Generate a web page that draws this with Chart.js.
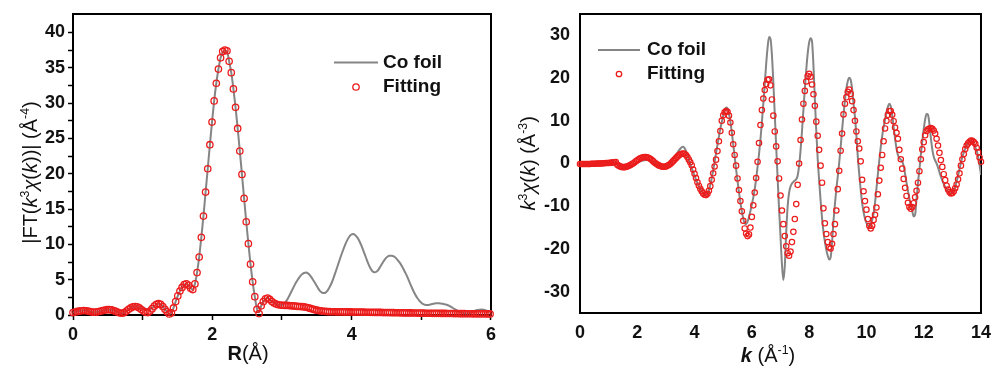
<!DOCTYPE html>
<html>
<head>
<meta charset="utf-8">
<script src="https://cdn.jsdelivr.net/npm/chart.js@4.4.0/dist/chart.umd.min.js"></script>
<style>
  html, body { margin: 0; background: #fff; overflow: hidden; }
  .panel { position: absolute; top: 0; height: 371px; }
  #left { left: 0; width: 500px; }
  #right { left: 497px; width: 494px; }
</style>
</head>
<body>
<div class="panel" id="left"><canvas id="ftChart"></canvas></div>
<div class="panel" id="right"><canvas id="kChart"></canvas></div>
<script>
// |FT(k3 chi(k))| vs R, sampled every dR
const dR = 0.0307;
const ftFit = [
  0.35, 0.42, 0.5, 0.56, 0.6, 0.62, 0.6, 0.55, 0.48, 0.42,
  0.4, 0.42, 0.48, 0.55, 0.63, 0.7, 0.75, 0.76, 0.72, 0.62,
  0.5, 0.38, 0.28, 0.25, 0.35, 0.55, 0.8, 1.0, 1.15, 1.2,
  1.15, 1.0, 0.78, 0.55, 0.38, 0.35, 0.55, 0.9, 1.25, 1.5,
  1.6, 1.5, 1.2, 0.8, 0.45, 0.15, 0.3, 1.0, 1.9, 2.7,
  3.4, 3.9, 4.3, 4.4, 4.2, 3.8, 3.6, 4.4, 6.0, 8.2,
  11.0, 14.0, 17.4, 20.7, 24.1, 27.3, 30.3, 32.8, 34.8, 36.4,
  37.3, 37.5, 37.4, 35.9, 34.3, 32.0, 29.4, 26.4, 23.2, 19.9,
  16.5, 13.2, 10.1, 7.2, 4.7, 2.6, 0.8, 0.2, 1.3, 1.9,
  2.3, 2.4, 2.2, 1.9, 1.7, 1.55, 1.45, 1.4, 1.38, 1.36,
  1.35, 1.33, 1.3, 1.28, 1.25, 1.22, 1.2, 1.18, 1.15, 1.1,
  1.02, 0.93, 0.84, 0.76, 0.68, 0.62, 0.57, 0.53, 0.5, 0.48,
  0.47, 0.46, 0.46, 0.45, 0.45, 0.45, 0.44, 0.44, 0.44, 0.43,
  0.43, 0.42, 0.42, 0.41, 0.41, 0.4, 0.4, 0.39, 0.39, 0.38,
  0.38, 0.37, 0.37, 0.36, 0.36, 0.35, 0.35, 0.34, 0.34, 0.33,
  0.33, 0.32, 0.32, 0.31, 0.31, 0.3, 0.3, 0.29, 0.29, 0.28,
  0.28, 0.27, 0.27, 0.26, 0.26, 0.25, 0.25, 0.25, 0.24, 0.24,
  0.23, 0.23, 0.22, 0.22, 0.22, 0.21, 0.21, 0.21, 0.2, 0.2,
  0.2, 0.19, 0.19, 0.19, 0.18, 0.18, 0.18, 0.17, 0.17, 0.17,
  0.17, 0.16, 0.16, 0.16, 0.15, 0.15
];
const ftFoil = [
  0.35, 0.42, 0.5, 0.56, 0.6, 0.62, 0.6, 0.55, 0.48, 0.42,
  0.4, 0.42, 0.48, 0.55, 0.63, 0.7, 0.75, 0.76, 0.72, 0.62,
  0.5, 0.38, 0.28, 0.25, 0.35, 0.55, 0.8, 1.0, 1.15, 1.2,
  1.15, 1.05, 0.95, 0.85, 0.8, 0.8, 0.85, 1.0, 1.25, 1.5,
  1.6, 1.5, 1.2, 0.8, 0.45, 0.15, 0.3, 1.0, 1.9, 2.7,
  3.4, 3.9, 4.3, 4.4, 4.2, 3.8, 3.6, 4.4, 6.0, 8.2,
  11.0, 14.0, 17.4, 20.7, 24.1, 27.3, 30.3, 32.8, 34.8, 36.4,
  37.2, 37.4, 37.3, 35.9, 34.3, 32.0, 29.4, 26.4, 23.2, 19.9,
  16.5, 13.2, 10.1, 7.2, 4.7, 2.6, 0.9, 0.4, 1.3, 1.9,
  2.3, 2.4, 2.2, 1.9, 1.7, 1.55, 1.45, 1.4, 1.45, 1.7,
  2.1, 2.65, 3.25, 3.85, 4.45, 4.95, 5.4, 5.75, 5.95, 6.0,
  5.85, 5.55, 5.1, 4.6, 4.1, 3.6, 3.25, 3.1, 3.15, 3.45,
  3.95, 4.6, 5.4, 6.3, 7.2, 8.1, 8.95, 9.75, 10.45, 11.0,
  11.35, 11.45, 11.3, 10.95, 10.4, 9.7, 8.9, 8.1, 7.3, 6.65,
  6.2, 6.05, 6.15, 6.5, 7.0, 7.5, 7.95, 8.25, 8.4, 8.4,
  8.3, 8.05, 7.7, 7.3, 6.8, 6.2, 5.6, 4.9, 4.2, 3.5,
  2.9, 2.4, 2.0, 1.7, 1.5, 1.42, 1.42, 1.48, 1.56, 1.62,
  1.65, 1.66, 1.64, 1.58, 1.5, 1.42, 1.3, 1.12, 0.92, 0.75,
  0.58, 0.45, 0.33, 0.25, 0.22, 0.25, 0.35, 0.48, 0.6, 0.7,
  0.76, 0.78, 0.74, 0.66, 0.55, 0.45
];
const rTicks = [0, 1, 2, 3, 4, 5, 6];
const ftTicks = [0, 2.5, 5, 7.5, 10, 12.5, 15, 17.5, 20, 22.5, 25, 27.5, 30, 32.5, 35, 37.5, 40];

// k3 chi(k) vs k, sampled every dk
const dk = 0.05;
const kFit = [
  -0.1, -0.1, -0.1, -0.1, -0.1, -0.1, -0.1, -0.1, -0.05, -0.05, -0.05, -0.05, 0, 0, 0, 0, 0.05, 0.05, 0.1, 0.1,
  0.1, 0.15, 0.2, 0.25, 0.3, 0.35, -0.3, -0.5, -0.7, -0.8, -0.85, -0.85, -0.8, -0.7, -0.55, -0.4, -0.2, 0, 0.25, 0.5,
  0.75, 1.0, 1.2, 1.35, 1.45, 1.5, 1.5, 1.45, 1.3, 1.1, 0.85, 0.55, 0.25, 0, -0.25, -0.45, -0.6, -0.7, -0.75, -0.75,
  -0.7, -0.55, -0.35, -0.1, 0.2, 0.55, 0.9, 1.25, 1.6, 1.9, 2.15, 2.3, 2.35, 2.3, 2.0, 1.5, 0.9, 0.3, -0.4, -1.4,
  -2.4, -3.4, -4.4, -5.2, -5.9, -6.5, -7.0, -7.3, -7.4, -7.1, -6.4, -5.3, -3.8, -2.3, -0.7, 0.9, 2.9, 5.2, 7.6, 10.0,
  11.3, 12.0, 12.3, 12.1, 11.2, 9.6, 7.2, 4.5, 2.0, -0.5, -3.5, -6.2, -8.8, -11.2, -13.4, -15.2, -16.4, -17.0, -16.6, -15.0,
  -12.5, -9.8, -6.8, -3.4, 0.4, 4.8, 9.0, 12.5, 15.2, 17.2, 18.6, 19.6, 19.7, 18.3, 15.0, 11.2, 7.5, 4.0, 0.5, -3.5,
  -7.5, -11.0, -14.2, -17.0, -19.4, -21.0, -21.6, -20.6, -18.4, -16.0, -13.0, -9.5, -5.0, 0, 5.5, 10.3, 14.0, 17.0, 19.2, 20.5,
  21.0, 20.3, 18.5, 16.2, 13.5, 9.8, 6.5, 3.2, -0.5, -4.5, -10.5, -14.0, -16.5, -18.4, -19.6, -19.9, -18.8, -16.5, -14.2, -11.0,
  -6.0, -1.7, 3.0, 7.0, 11.5, 14.0, 15.5, 16.8, 17.3, 16.3, 14.6, 12.5, 10.0, 7.5, 5.2, 3.5, 0.5, -3.8, -6.5, -8.8,
  -10.8, -13.0, -14.6, -15.2, -14.6, -13.2, -12.0, -10.3, -7.2, -4.0, -1.0, 2.0, 5.2, 8.2, 10.0, 11.4, 12.3, 12.3, 11.4, 9.9,
  8.4, 7.2, 5.8, 3.2, 1.0, -1.2, -3.6, -5.7, -7.6, -9.2, -10.2, -10.6, -10.2, -9.3, -7.9, -6.4, -4.5, -1.8, 1.0, 3.3,
  5.0, 6.6, 7.6, 8.0, 8.2, 8.3, 8.1, 7.7, 7.0, 5.8, 4.2, 2.5, 0.8, -0.8, -2.5, -3.9, -5.2, -6.1, -6.7, -7.0,
  -6.9, -6.5, -5.8, -4.9, -3.7, -2.3, -0.5, 1.0, 2.2, 3.4, 4.2, 4.7, 5.1, 5.4, 5.3, 5.0, 4.6, 3.7, 2.6, 1.4,
  0.4
];
const kFoil = [
  -0.1, -0.1, -0.1, -0.1, -0.1, -0.1, -0.1, -0.1, -0.05, -0.05, -0.05, -0.05, 0, 0, 0, 0, 0.05, 0.05, 0.1, 0.1,
  0.1, 0.15, 0.2, 0.25, 0.3, 0.35, -0.2, -0.5, -0.8, -0.95, -1.0, -1.0, -0.95, -0.85, -0.7, -0.55, -0.4, -0.25, -0.1, 0.05,
  0.2, 0.35, 0.5, 0.6, 0.7, 0.75, 0.8, 0.8, 0.8, 0.75, 0.6, 0.4, 0.15, -0.1, -0.35, -0.6, -0.8, -0.95, -1.0, -1.0,
  -0.9, -0.7, -0.4, 0.0, 0.45, 0.95, 1.5, 2.0, 2.5, 3.0, 3.45, 3.8, 3.9, 3.6, 2.9, 1.9, 0.8, -0.2, -1.1, -2.0,
  -2.9, -3.8, -4.6, -5.3, -5.9, -6.5, -7.0, -7.3, -7.4, -7.1, -6.3, -5.0, -3.4, -1.6, 0.4, 2.4, 4.4, 6.3, 8.1, 9.7,
  11.2, 12.4, 13.1, 12.9, 11.7, 9.8, 7.3, 4.5, 1.6, -1.3, -4.1, -6.7, -9.1, -11.2, -12.9, -14.0, -14.2, -13.6, -12.5, -11.1,
  -9.6, -8.0, -6.0, -3.6, -0.8, 2.2, 5.6, 9.6, 14.0, 18.6, 23.3, 27.2, 29.6, 29.2, 25.5, 19.0, 11.5, 4.0, -3.5, -10.5,
  -17.0, -23.5, -27.3, -24.0, -16.0, -10.0, -6.8, -5.4, -4.7, -4.3, -4.0, -3.7, -2.8, -0.5, 3.0, 7.5, 12.5, 17.5, 22.0, 25.8,
  28.3, 29.3, 28.6, 23.0, 15.0, 7.5, 1.0, -4.0, -8.6, -12.8, -16.0, -18.3, -20.2, -21.6, -22.5, -22.0, -18.5, -13.5, -9.5, -6.0,
  -3.0, 0.2, 3.8, 7.8, 11.5, 14.8, 17.5, 19.3, 20.1, 19.6, 17.5, 14.0, 10.9, 6.5, 1.5, -2.5, -6.2, -9.2, -11.4, -12.9,
  -13.9, -14.4, -14.8, -14.2, -13.2, -11.7, -9.2, -5.9, -2.5, 0.8, 3.8, 6.4, 8.5, 10.3, 12.0, 13.3, 14.0, 13.4, 11.3, 8.6,
  5.8, 3.5, 2.0, 1.3, 0.9, 0.5, -0.6, -2.4, -4.5, -6.4, -8.2, -9.8, -11.2, -12.4, -12.0, -8.2, -4.5, -1.4, 2.0, 5.2,
  8.0, 10.3, 11.6, 11.4, 9.2, 6.0, 3.3, 1.6, 0.7, 0.0, -0.9, -2.0, -3.1, -4.0, -4.8, -5.5, -6.1, -6.6, -6.9, -7.0,
  -6.8, -6.2, -5.4, -4.2, -2.8, -1.3, 0.2, 1.5, 2.6, 3.5, 4.3, 4.9, 5.3, 5.4, 5.1, 4.5, 3.8, 3.0, 1.6, -0.4,
  -2.7
];
const kTicks = [0, 2, 4, 6, 8, 10, 12, 14];
const chiTicks = [-30, -20, -10, 0, 10, 20, 30];

const FONT = '"Liberation Sans", Arial, sans-serif';
const RED = '#ec1c1c';
const GREY = '#858585';
const INK = '#111';

const pts = (vals, step) => vals.map((v, i) => ({ x: +(i * step).toFixed(4), y: v }));

// draws a run of text pieces: [text, fontStyle, superscript]
function richText(ctx, parts, x, y, size) {
  const fontOf = (p) => `${p[1] || ''} ${p[2] ? size * 0.62 : size}px ${FONT}`;
  let total = 0;
  parts.forEach((p) => { ctx.font = fontOf(p); total += ctx.measureText(p[0]).width; });
  let cx = x - total / 2;
  ctx.textAlign = 'left';
  ctx.textBaseline = 'alphabetic';
  parts.forEach((p) => {
    ctx.font = fontOf(p);
    ctx.fillText(p[0], cx, p[2] ? y - size * 0.4 : y);
    cx += ctx.measureText(p[0]).width;
  });
}

function decorPlugin(cfg) {
  return {
    id: 'decor',
    beforeDatasetsDraw(chart) {
      const { ctx, chartArea: a } = chart;
      ctx.save();
      ctx.strokeStyle = '#000';
      ctx.lineWidth = 2;
      ctx.strokeRect(a.left, a.top, a.right - a.left, a.bottom - a.top);
      ctx.restore();
    },
    afterDatasetsDraw(chart) {
      const ctx = chart.ctx;
      const lg = cfg.legend;
      ctx.save();
      // legend
      ctx.strokeStyle = GREY;
      ctx.lineWidth = 2;
      ctx.beginPath();
      ctx.moveTo(lg.x1, lg.y1);
      ctx.lineTo(lg.x2, lg.y1);
      ctx.stroke();
      ctx.strokeStyle = RED;
      ctx.lineWidth = 1.3;
      ctx.beginPath();
      ctx.arc((lg.x1 + lg.x2) / 2, lg.y2, cfg.radius, 0, Math.PI * 2);
      ctx.stroke();
      ctx.fillStyle = INK;
      ctx.font = `bold 19px ${FONT}`;
      ctx.textAlign = 'left';
      ctx.textBaseline = 'middle';
      ctx.fillText('Co foil', lg.tx, lg.y1);
      ctx.fillText('Fitting', lg.tx, lg.y2);
      // axis titles
      richText(ctx, cfg.xTitle.parts, cfg.xTitle.x, cfg.xTitle.y, 20);
      ctx.translate(cfg.yTitle.x, cfg.yTitle.y);
      ctx.rotate(-Math.PI / 2);
      richText(ctx, cfg.yTitle.parts, 0, 0, 20);
      ctx.restore();
    }
  };
}

// marks: visible tick marks; tick length always reserves the gap before labels
function axis(ticks, min, max, opts) {
  return {
    type: 'linear',
    min: min,
    max: max,
    afterBuildTicks: (s) => { s.ticks = ticks.map((v) => ({ value: v })); },
    afterFit: (s) => {
      if (s.isHorizontal()) s.height = opts.size; else s.width = opts.size;
    },
    border: { display: false },
    grid: {
      display: true,
      drawOnChartArea: false,
      drawTicks: true,
      tickLength: opts.gap,
      tickWidth: 1.5,
      tickColor: opts.marks ? '#000' : 'rgba(0,0,0,0)'
    },
    ticks: {
      autoSkip: false,
      maxRotation: 0,
      padding: opts.pad,
      color: INK,
      font: { family: FONT, size: 18, weight: 'bold' },
      callback: opts.label || ((v) => v)
    }
  };
}

const baseOptions = {
  responsive: true,
  maintainAspectRatio: false,
  animation: false,
  events: [],
  plugins: { legend: { display: false }, tooltip: { enabled: false } }
};

new Chart(document.getElementById('ftChart'), {
  type: 'scatter',
  data: {
    datasets: [
      {
        data: pts(ftFit, dR),
        showLine: false,
        pointRadius: 3.2,
        pointBorderWidth: 1.3,
        pointBorderColor: RED,
        pointBackgroundColor: 'rgba(0,0,0,0)',
        clip: false,
        order: 0
      },
      {
        data: pts(ftFoil, dR),
        showLine: true,
        borderColor: GREY,
        borderWidth: 2,
        pointRadius: 0,
        cubicInterpolationMode: 'monotone',
        order: 1
      }
    ]
  },
  options: {
    ...baseOptions,
    layout: { autoPadding: false, padding: { top: 14, right: 0, bottom: 0, left: 0 } },
    scales: {
      x: axis(rTicks, 0, 6, { size: 56, marks: true, gap: 5, pad: 4, label: (v) => (v % 2 === 0 ? v : '') }),
      y: axis(ftTicks, 0, 42.6, { size: 73, marks: true, gap: 5, pad: 3, label: (v) => (v % 5 === 0 ? v : '') })
    }
  },
  plugins: [decorPlugin({
    radius: 3.2,
    legend: { x1: 334, x2: 378, y1: 62.5, y2: 87, tx: 383 },
    xTitle: { x: 248, y: 360, parts: [['R', 'bold'], ['(Å)', '']] },
    yTitle: {
      x: 36.5, y: 172.5,
      parts: [['|FT(', ''], ['k', 'italic'], ['3', '', true], ['χ', 'italic'], ['(', ''], ['k', 'italic'],
        ['))| (Å', ''], ['-4', '', true], [')', '']]
    }
  })]
});

new Chart(document.getElementById('kChart'), {
  type: 'scatter',
  data: {
    datasets: [
      {
        data: pts(kFit, dk),
        showLine: false,
        pointRadius: 2.7,
        pointBorderWidth: 1.2,
        pointBorderColor: RED,
        pointBackgroundColor: 'rgba(0,0,0,0)',
        clip: false,
        order: 0
      },
      {
        data: pts(kFoil, dk),
        showLine: true,
        borderColor: GREY,
        borderWidth: 2,
        pointRadius: 0,
        cubicInterpolationMode: 'monotone',
        order: 1
      }
    ]
  },
  options: {
    ...baseOptions,
    layout: { autoPadding: false, padding: { top: 14, right: 0, bottom: 0, left: 0 } },
    scales: {
      x: axis(kTicks, 0, 14, { size: 58, marks: false, gap: 9, pad: 0 }),
      y: axis(chiTicks, -35, 35, { size: 83, marks: false, gap: 7, pad: 3 })
    }
  },
  plugins: [decorPlugin({
    radius: 2.7,
    legend: { x1: 101, x2: 143, y1: 50, y2: 74, tx: 150 },
    xTitle: { x: 271, y: 362, parts: [['k', 'italic bold'], [' (Å', ''], ['-1', '', true], [')', '']] },
    yTitle: {
      x: 38, y: 163.3,
      parts: [['k', 'italic'], ['3', '', true], ['χ', 'italic'], ['(', ''], ['k', 'italic'],
        [') (Å', ''], ['-3', '', true], [')', '']]
    }
  })]
});
</script>
</body>
</html>
